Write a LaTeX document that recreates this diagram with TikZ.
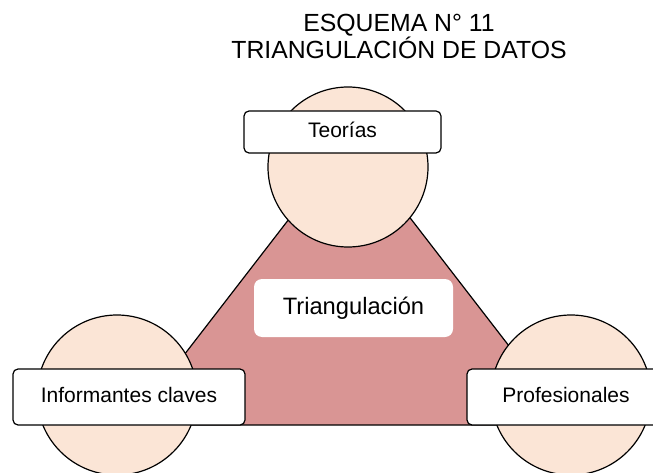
\documentclass[tikz,border=0pt]{standalone}
\usepackage{fontspec}
\setmainfont{Liberation Sans}
\usepackage{xcolor}
\usepackage{tikz}

\definecolor{peach}{HTML}{FBE5D6}
\definecolor{rose}{HTML}{D99594}

\begin{document}
\begin{tikzpicture}[
  x=1pt, y=-1pt,
  bubble/.style={circle,draw,line width=1.2pt,fill=peach,minimum size=160pt,inner sep=0pt},
  tag/.style={rectangle,draw,line width=1.2pt,fill=white,rounded corners=5pt,
    font=\fontsize{21}{25}\selectfont,text height=15pt,text depth=4.5pt,
    minimum height=56pt},
  hub/.style={rectangle,fill=white,rounded corners=8pt,
    font=\fontsize{23.7}{28}\selectfont,text height=17pt,text depth=4pt,
    minimum width=199pt,minimum height=58pt}
]
  \useasboundingbox (0,0) rectangle (653,473);
  \node[font=\fontsize{24.8}{27}\selectfont,align=center,anchor=north,inner sep=0pt]
    (title) at (399,14) {ESQUEMA N° 11\\TRIANGULACIÓN DE DATOS};

  \coordinate (apex) at (350,140);
  \coordinate (lcorner) at (130,425);
  \coordinate (rcorner) at (570,425);
  \filldraw[fill=rose,line width=1.2pt] (apex) -- (lcorner) -- (rcorner) -- cycle;

  \node[bubble] (teo) at (348,167) {};
  \node[bubble] (inf) at (117,395) {};
  \node[bubble] (pro) at (571,395) {};

  \node[tag,minimum width=197pt,minimum height=42pt] (teoLabel) at (342.5,132) {Teorías};
  \node[tag,minimum width=232pt] (infLabel) at (129,397) {Informantes claves};
  \node[tag,minimum width=198pt] (proLabel) at (566,397) {Profesionales};
  \node[hub] (tri) at (353.5,308) {Triangulación};
\end{tikzpicture}
\end{document}
